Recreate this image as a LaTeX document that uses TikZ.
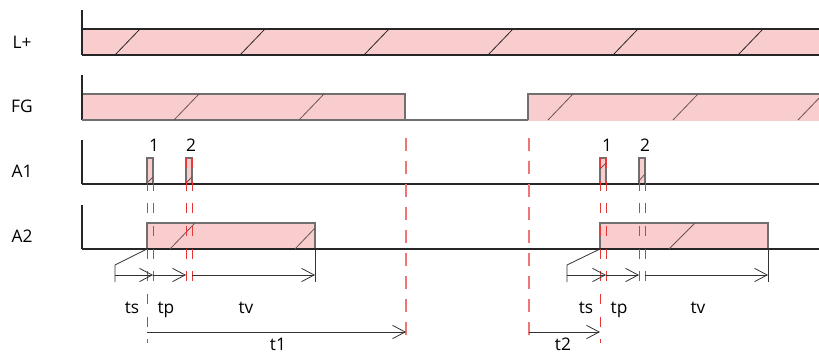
\documentclass[tikz,border=0pt]{standalone}
\usepackage{fontspec}
\setmainfont{Open Sans}
\usetikzlibrary{arrows.meta}

\definecolor{barfill}{HTML}{F9CCCE}
\definecolor{barline}{HTML}{707070}
\definecolor{hatch}{HTML}{6A5555}
\definecolor{markred}{HTML}{F07575}
\definecolor{thinred}{HTML}{E83535}

\tikzset{
  sig/.style={fill=barfill, draw=barline, line width=0.8pt},
  hatchline/.style={draw=hatch, line width=0.6pt},
  axisline/.style={draw=black!85, line width=0.8pt},
  bigmark/.style={draw=markred, line width=1.4pt, dash pattern=on 9.75pt off 7.5pt},
  smallmark/.style={draw=thinred, line width=0.7pt, dash pattern=on 7.5pt off 9.5pt},
  span/.style={draw=black!80, line width=0.6pt, -{Straight Barb[length=9.5pt, width=10pt]}},
  lbl/.style={font=\fontsize{13}{15}\selectfont, inner sep=0pt}
}

\begin{document}
\begin{tikzpicture}[x=0.75pt, y=-0.75pt]
  \useasboundingbox (0,0) rectangle (819,353);

  % signal names
  \node[lbl] (lplus) at (22,42) {L+};
  \node[lbl] (fg) at (22,106) {FG};
  \node[lbl] (aone) at (22,171) {A1};
  \node[lbl] (atwo) at (22,236) {A2};

  % L+
  \fill[barfill] (82,29) rectangle (819,55);
  \draw[axisline] (82,10) -- (82,55);
  \draw[axisline] (82,29) -- (819,29);
  \draw[axisline] (82,55) -- (819,55);
  \foreach \x in {115,240,364,488,613,738}
    \draw[draw=black!85, line width=0.6pt] (\x,55) -- ++(25,-26);

  % FG
  \draw[sig] (82,120) -- (82,94) -- (405,94) -- (405,120);
  \fill[barfill] (528,94) rectangle (819,121);
  \draw[draw=barline, line width=0.8pt] (528,120) -- (528,94) -- (819,94);
  \draw[axisline] (82,75) -- (82,120);
  \draw[draw=barline, line width=0.8pt] (82,120) -- (528,120);
  \foreach \x in {174,299,548,673,798}
    \draw[hatchline] (\x,120) -- ++(25,-26);

  % A1
  \draw[axisline] (82,140) -- (82,184);
  \draw[sig] (147,184) rectangle (153,158);
  \draw[sig] (186,184) rectangle (192,158);
  \draw[sig] (600,184) rectangle (606,158);
  \draw[sig] (639,184) rectangle (645,158);
  \draw[axisline] (82,184) -- (819,184);
  \draw[hatchline] (147,183) -- (153,177);
  \draw[hatchline] (186,183) -- (192,177);
  \draw[hatchline] (600,169) -- (606,163);
  \draw[hatchline] (638,182) -- (645,174);
  \node[lbl] (pone) at (154,145) {1};
  \node[lbl] (ptwo) at (191,145) {2};
  \node[lbl] (qone) at (607,145) {1};
  \node[lbl] (qtwo) at (645,145) {2};

  % A2
  \draw[axisline] (82,205) -- (82,249);
  \draw[sig] (147,249) rectangle (315,223);
  \draw[sig] (600,249) rectangle (768,223);
  \draw[axisline] (82,249) -- (819,249);
  \draw[hatchline] (170,249) -- (195,223);
  \draw[hatchline] (295,249) -- (315,228);
  \draw[hatchline] (669,249) -- (695,223);

  % markers
  \draw[bigmark] (406,138) -- (406,343);
  \draw[bigmark] (529,138) -- (529,343);
  \draw[smallmark] (147,158) -- (147,343);
  \foreach \x in {153,186,192}
    \draw[smallmark] (\x,158) -- (\x,283);
  \draw[smallmark] (600,158) -- (600,343);
  \foreach \x in {606,639,645}
    \draw[smallmark] (\x,158) -- (\x,283);

  % first cycle
  \coordinate (sa) at (115,275);
  \coordinate (sb) at (153,275);
  \coordinate (sc) at (186,275);
  \coordinate (sd) at (192,275);
  \coordinate (se) at (315,275);
  \draw[draw=black!80, line width=0.6pt] (115,282) -- (115,265) -- (147,249);
  \draw[draw=black!80, line width=0.6pt] (315,249) -- (315,282);
  \draw[span] (sa) -- (sb);
  \draw[span] (sb) -- (sc);
  \draw[span] (sd) -- (se);
  \node[lbl, anchor=base] (tsa) at (132,313) {ts};
  \node[lbl, anchor=base] (tpa) at (166,313) {tp};
  \node[lbl, anchor=base] (tva) at (246,313) {tv};

  % second cycle
  \coordinate (ua) at (567,275);
  \coordinate (ub) at (606,275);
  \coordinate (uc) at (639,275);
  \coordinate (ud) at (645,275);
  \coordinate (ue) at (768,275);
  \draw[draw=black!80, line width=0.6pt] (567,282) -- (567,265) -- (600,249);
  \draw[draw=black!80, line width=0.6pt] (768,249) -- (768,282);
  \draw[span] (ua) -- (ub);
  \draw[span] (ub) -- (uc);
  \draw[span] (ud) -- (ue);
  \node[lbl, anchor=base] (tsb) at (586,313) {ts};
  \node[lbl, anchor=base] (tpb) at (619,313) {tp};
  \node[lbl, anchor=base] (tvb) at (698,313) {tv};

  % t1, t2
  \coordinate (oa) at (147,332);
  \coordinate (ob) at (406,332);
  \coordinate (oc) at (529,332);
  \coordinate (od) at (600,332);
  \draw[span] (oa) -- (ob);
  \draw[span] (oc) -- (od);
  \node[lbl, anchor=base] (tone) at (278,350) {t1};
  \node[lbl, anchor=base] (ttwo) at (563,350) {t2};
\end{tikzpicture}
\end{document}
